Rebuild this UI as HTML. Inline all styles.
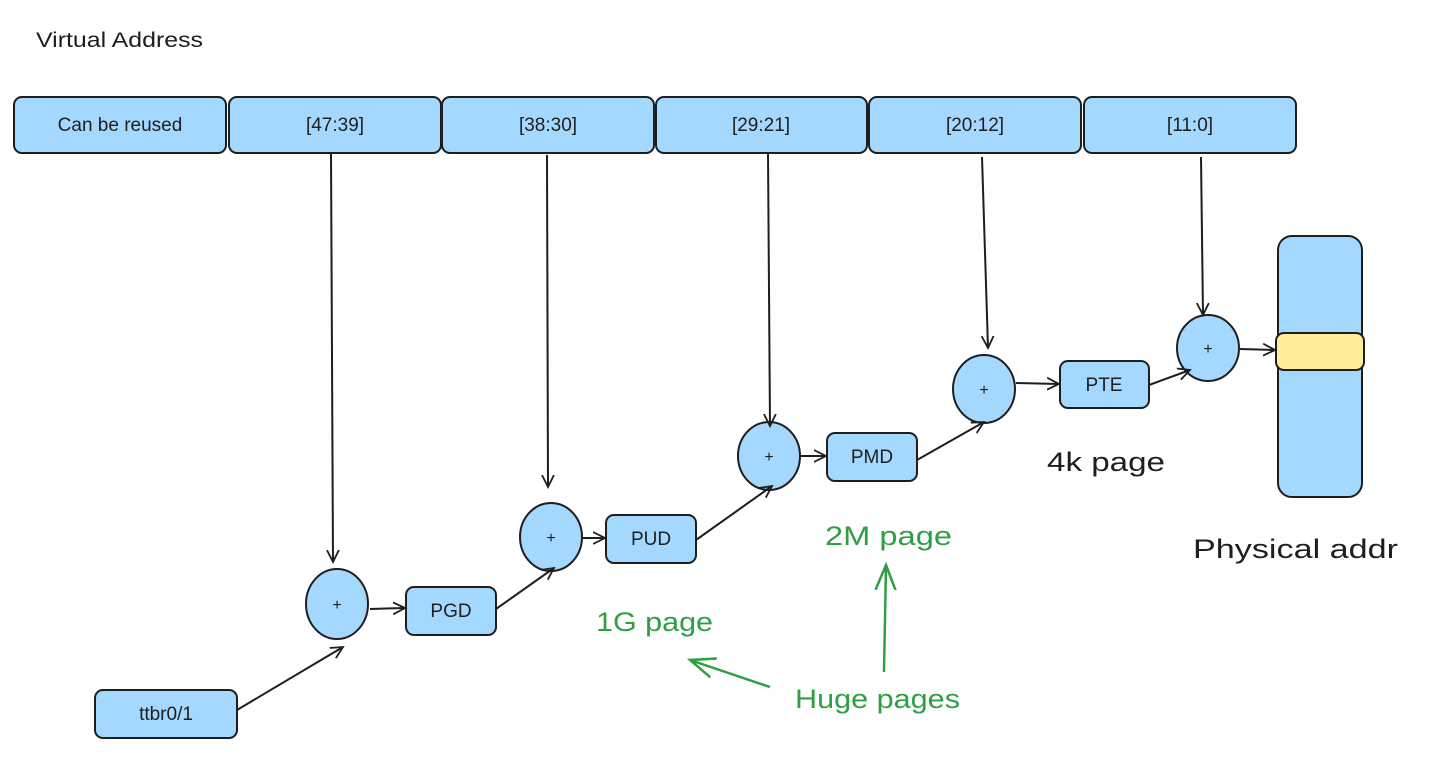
<!DOCTYPE html>
<html><head><style>
body{margin:0;background:#fff;width:1438px;height:764px;overflow:hidden}
svg text{font-family:"Liberation Sans",sans-serif;fill:#1e1e1e}
</style></head><body>
<svg width="1438" height="764" viewBox="0 0 1438 764">
<defs>
<marker id="a" markerWidth="14" markerHeight="14" refX="12" refY="7" orient="auto" markerUnits="userSpaceOnUse"><path d="M0,1 L12,7 L0,13" fill="none" stroke="#1e1e1e" stroke-width="1.8"/></marker>
<marker id="g" markerWidth="28" markerHeight="28" refX="25" refY="14" orient="auto" markerUnits="userSpaceOnUse"><path d="M0,4 L25,14 L0,24" fill="none" stroke="#2f9e44" stroke-width="2.5"/></marker>
</defs>
<text x="36" y="47" font-size="21" textLength="167" lengthAdjust="spacingAndGlyphs">Virtual Address</text>
<g fill="#a5d8ff" stroke="#1e1e1e" stroke-width="2">
<rect x="14" y="97" width="212" height="56" rx="8"/>
<rect x="229" y="97" width="212" height="56" rx="8"/>
<rect x="442" y="97" width="212" height="56" rx="8"/>
<rect x="656" y="97" width="211" height="56" rx="8"/>
<rect x="869" y="97" width="212" height="56" rx="8"/>
<rect x="1084" y="97" width="212" height="56" rx="8"/>
<rect x="406" y="587" width="90" height="48" rx="8"/>
<rect x="606" y="515" width="90" height="48" rx="8"/>
<rect x="827" y="433" width="90" height="48" rx="8"/>
<rect x="1060" y="361" width="89" height="47" rx="8"/>
<rect x="95" y="690" width="142" height="48" rx="8"/>
<ellipse cx="337" cy="604" rx="31" ry="35"/>
<ellipse cx="551" cy="537" rx="31" ry="34"/>
<ellipse cx="769" cy="456" rx="31" ry="34"/>
<ellipse cx="984" cy="389" rx="31" ry="34"/>
<ellipse cx="1208" cy="348" rx="31" ry="33"/>
<rect x="1278" y="236" width="84" height="261" rx="14"/>
<rect x="1276" y="333" width="88" height="37" rx="8" fill="#ffec99"/>
</g>
<g font-size="19" text-anchor="middle">
<text x="120" y="131">Can be reused</text>
<text x="335" y="131">[47:39]</text>
<text x="548" y="131">[38:30]</text>
<text x="761" y="131">[29:21]</text>
<text x="975" y="131">[20:12]</text>
<text x="1190" y="131">[11:0]</text>
<text x="451" y="617">PGD</text>
<text x="651" y="545">PUD</text>
<text x="872" y="463">PMD</text>
<text x="1104" y="391">PTE</text>
<text x="166" y="720">ttbr0/1</text>
<text x="337" y="610" font-size="16">+</text>
<text x="551" y="543" font-size="16">+</text>
<text x="769" y="462" font-size="16">+</text>
<text x="984" y="395" font-size="16">+</text>
<text x="1208" y="354" font-size="16">+</text>
</g>
<g stroke="#1e1e1e" stroke-width="2" fill="none" marker-end="url(#a)">
<path d="M331,153 L333,562"/>
<path d="M547,155 L548,487"/>
<path d="M768,153 L770,426"/>
<path d="M982,157 L988,348"/>
<path d="M1201,157 L1203,315"/>
<path d="M237,710 L343,647"/>
<path d="M370,609 L405,608"/>
<path d="M496,609 L554,568"/>
<path d="M582,538 L605,538"/>
<path d="M696,540 L772,486"/>
<path d="M800,456 L826,456"/>
<path d="M917,460 L984,422"/>
<path d="M1016,383 L1059,384"/>
<path d="M1149,385 L1190,370"/>
<path d="M1240,349 L1275,350"/>
</g>
<text x="1047" y="471" font-size="27" textLength="118" lengthAdjust="spacingAndGlyphs">4k page</text>
<text x="1193" y="558" font-size="27" textLength="205" lengthAdjust="spacingAndGlyphs">Physical addr</text>
<g font-size="27">
<text x="825" y="545" style="fill:#2f9e44" textLength="127" lengthAdjust="spacingAndGlyphs">2M page</text>
<text x="596" y="631" style="fill:#2f9e44" textLength="117" lengthAdjust="spacingAndGlyphs">1G page</text>
<text x="795" y="708" style="fill:#2f9e44" textLength="165" lengthAdjust="spacingAndGlyphs">Huge pages</text>
</g>
<g stroke="#2f9e44" stroke-width="2.5" fill="none" marker-end="url(#g)">
<path d="M770,687 L690,660"/>
<path d="M884,672 L886,565"/>
</g>
</svg>
</body></html>
